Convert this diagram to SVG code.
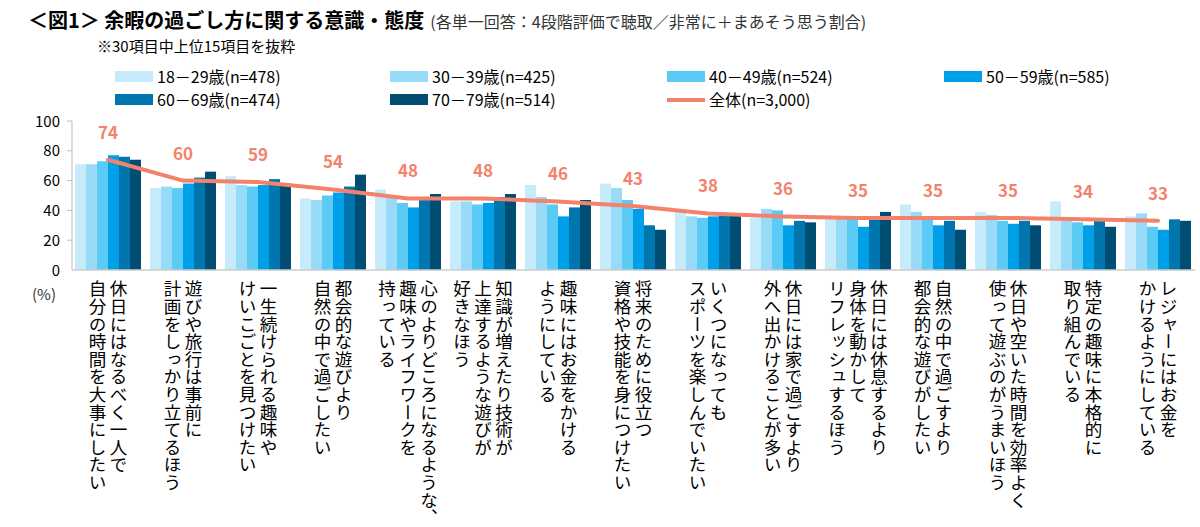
<svg xmlns="http://www.w3.org/2000/svg" width="1200" height="527" viewBox="0 0 1200 527">
<style>
text{font-family:"Noto Sans CJK JP","Liberation Sans",sans-serif;fill:#000}
.cat{font-size:17.6px;writing-mode:vertical-rl}
.ax{font-size:15px;fill:#333}
.lg{font-size:16px}
.val{font-size:17px;font-weight:bold;fill:#F4826B;text-anchor:middle}
.s0{fill:#C6EBFB}.s1{fill:#97DBF9}.s2{fill:#5BCBF5}.s3{fill:#00A0E9}.s4{fill:#0075AE}.s5{fill:#004E74}
</style>
<rect width="1200" height="527" fill="#fff"/>
<g id="title">
<text x="28" y="28" font-size="20" font-weight="bold">＜図1＞ 余暇の過ごし方に関する意識・態度<tspan font-size="16" font-weight="normal" fill="#333" dx="6">(各単一回答：4段階評価で聴取／非常に＋まあそう思う割合)</tspan></text>
<text x="97" y="52" font-size="15" fill="#333">※30項目中上位15項目を抜粋</text>
</g>
<g id="legend" class="lg">
<rect class="s0" x="115" y="71" width="38" height="11"/><text x="157" y="83">18－29歳(n=478)</text>
<rect class="s1" x="390" y="71" width="38" height="11"/><text x="432" y="83">30－39歳(n=425)</text>
<rect class="s2" x="667" y="71" width="38" height="11"/><text x="709" y="83">40－49歳(n=524)</text>
<rect class="s3" x="944" y="71" width="38" height="11"/><text x="986" y="83">50－59歳(n=585)</text>
<rect class="s4" x="115" y="94" width="38" height="11"/><text x="157" y="106">60－69歳(n=474)</text>
<rect class="s5" x="390" y="94" width="38" height="11"/><text x="432" y="106">70－79歳(n=514)</text>
<line x1="667" y1="100" x2="705" y2="100" stroke="#F4826B" stroke-width="4"/><text x="709" y="106">全体(n=3,000)</text>
</g>
<g id="axes">
<line x1="72" y1="121" x2="72" y2="270" stroke="#bbb"/>
<g stroke="#bbb"><line x1="67" y1="121" x2="72" y2="121"/><line x1="67" y1="150.8" x2="72" y2="150.8"/><line x1="67" y1="180.6" x2="72" y2="180.6"/><line x1="67" y1="210.4" x2="72" y2="210.4"/><line x1="67" y1="240.2" x2="72" y2="240.2"/></g>
<g class="ax" text-anchor="end"><text x="60" y="127">100</text><text x="60" y="156">80</text><text x="60" y="186">60</text><text x="60" y="216">40</text><text x="60" y="246">20</text><text x="60" y="276">0</text></g>
<text class="ax" x="32" y="300">(%)</text>
</g>
<g id="bars" transform="translate(0,270) scale(1,-1.49)">
<g class="s0"><rect x="75" width="11" height="71"/><rect x="150" width="11" height="55"/><rect x="225" width="11" height="63"/><rect x="300" width="11" height="48"/><rect x="375" width="11" height="54"/><rect x="450" width="11" height="46"/><rect x="525" width="11" height="57"/><rect x="600" width="11" height="58"/><rect x="675" width="11" height="41"/><rect x="750" width="11" height="35"/><rect x="825" width="11" height="35"/><rect x="900" width="11" height="44"/><rect x="975" width="11" height="39"/><rect x="1050" width="11" height="46"/><rect x="1125" width="11" height="36"/></g>
<g class="s1"><rect x="86" width="11" height="71"/><rect x="161" width="11" height="56"/><rect x="236" width="11" height="57"/><rect x="311" width="11" height="47"/><rect x="386" width="11" height="50"/><rect x="461" width="11" height="46"/><rect x="536" width="11" height="49"/><rect x="611" width="11" height="55"/><rect x="686" width="11" height="36"/><rect x="761" width="11" height="41"/><rect x="836" width="11" height="35"/><rect x="911" width="11" height="39"/><rect x="986" width="11" height="37"/><rect x="1061" width="11" height="33"/><rect x="1136" width="11" height="38"/></g>
<g class="s2"><rect x="97" width="11" height="73"/><rect x="172" width="11" height="55"/><rect x="247" width="11" height="56"/><rect x="322" width="11" height="50"/><rect x="397" width="11" height="45"/><rect x="472" width="11" height="44"/><rect x="547" width="11" height="44"/><rect x="622" width="11" height="47"/><rect x="697" width="11" height="35"/><rect x="772" width="11" height="40"/><rect x="847" width="11" height="35"/><rect x="922" width="11" height="34"/><rect x="997" width="11" height="33"/><rect x="1072" width="11" height="32"/><rect x="1147" width="11" height="29"/></g>
<g class="s3"><rect x="108" width="11" height="77"/><rect x="183" width="11" height="58"/><rect x="258" width="11" height="57"/><rect x="333" width="11" height="52"/><rect x="408" width="11" height="42"/><rect x="483" width="11" height="45"/><rect x="558" width="11" height="36"/><rect x="633" width="11" height="41"/><rect x="708" width="11" height="36"/><rect x="783" width="11" height="30"/><rect x="858" width="11" height="29"/><rect x="933" width="11" height="30"/><rect x="1008" width="11" height="31"/><rect x="1083" width="11" height="30"/><rect x="1158" width="11" height="27"/></g>
<g class="s4"><rect x="119" width="11" height="76"/><rect x="194" width="11" height="62"/><rect x="269" width="11" height="61"/><rect x="344" width="11" height="56"/><rect x="419" width="11" height="47"/><rect x="494" width="11" height="49"/><rect x="569" width="11" height="42"/><rect x="644" width="11" height="30"/><rect x="719" width="11" height="38"/><rect x="794" width="11" height="33"/><rect x="869" width="11" height="35"/><rect x="944" width="11" height="33"/><rect x="1019" width="11" height="33"/><rect x="1094" width="11" height="33"/><rect x="1169" width="11" height="34"/></g>
<g class="s5"><rect x="130" width="11" height="74"/><rect x="205" width="11" height="66"/><rect x="280" width="11" height="58"/><rect x="355" width="11" height="64"/><rect x="430" width="11" height="51"/><rect x="505" width="11" height="51"/><rect x="580" width="11" height="47"/><rect x="655" width="11" height="27"/><rect x="730" width="11" height="38"/><rect x="805" width="11" height="32"/><rect x="880" width="11" height="39"/><rect x="955" width="11" height="27"/><rect x="1030" width="11" height="30"/><rect x="1105" width="11" height="29"/><rect x="1180" width="11" height="33"/></g>
</g>
<line x1="72" y1="270" x2="1195" y2="270" stroke="#ccc" stroke-width="1.5"/>
<g id="connectors">
<polyline points="108,159.7 183,180.6 258,182.1 333,189.5 408,198.5 483,198.5 558,201.5 633,205.9 708,213.4 783,216.4 858,217.9 933,217.9 1008,217.9 1083,219.3 1158,220.8" fill="none" stroke="#F4826B" stroke-width="4" stroke-linejoin="round" stroke-linecap="round"/>
</g>
<g id="values">
<text class="val" x="108" y="139">74</text><text class="val" x="183" y="160">60</text><text class="val" x="258" y="161">59</text><text class="val" x="333" y="168">54</text><text class="val" x="408" y="177">48</text><text class="val" x="483" y="177">48</text><text class="val" x="558" y="180">46</text><text class="val" x="633" y="185">43</text><text class="val" x="708" y="192">38</text><text class="val" x="783" y="195">36</text><text class="val" x="858" y="197">35</text><text class="val" x="933" y="197">35</text><text class="val" x="1008" y="197">35</text><text class="val" x="1083" y="198">34</text><text class="val" x="1158" y="200">33</text>
</g>
<g id="categories">
<g id="c1"><text class="cat" x="118.5" y="280">休日にはなるべく一人で</text><text class="cat" x="97.5" y="280">自分の時間を大事にしたい</text></g>
<g id="c2"><text class="cat" x="193.5" y="280">遊びや旅行は事前に</text><text class="cat" x="172.5" y="280">計画をしっかり立てるほう</text></g>
<g id="c3"><text class="cat" x="268.5" y="280">一生続けられる趣味や</text><text class="cat" x="247.5" y="280">けいこごとを見つけたい</text></g>
<g id="c4"><text class="cat" x="343.5" y="280">都会的な遊びより</text><text class="cat" x="322.5" y="280">自然の中で過ごしたい</text></g>
<g id="c5"><text class="cat" x="429" y="280">心のよりどころになるような、</text><text class="cat" x="408" y="280">趣味やライフワークを</text><text class="cat" x="387" y="280">持っている</text></g>
<g id="c6"><text class="cat" x="504" y="280">知識が増えたり技術が</text><text class="cat" x="483" y="280">上達するような遊びが</text><text class="cat" x="462" y="280">好きなほう</text></g>
<g id="c7"><text class="cat" x="568.5" y="280">趣味にはお金をかける</text><text class="cat" x="547.5" y="280">ようにしている</text></g>
<g id="c8"><text class="cat" x="643.5" y="280">将来のために役立つ</text><text class="cat" x="622.5" y="280">資格や技能を身につけたい</text></g>
<g id="c9"><text class="cat" x="718.5" y="280">いくつになっても</text><text class="cat" x="697.5" y="280">スポーツを楽しんでいたい</text></g>
<g id="c10"><text class="cat" x="793.5" y="280">休日には家で過ごすより</text><text class="cat" x="772.5" y="280">外へ出かけることが多い</text></g>
<g id="c11"><text class="cat" x="879" y="280">休日には休息するより</text><text class="cat" x="858" y="280">身体を動かして</text><text class="cat" x="837" y="280">リフレッシュするほう</text></g>
<g id="c12"><text class="cat" x="943.5" y="280">自然の中で過ごすより</text><text class="cat" x="922.5" y="280">都会的な遊びがしたい</text></g>
<g id="c13"><text class="cat" x="1018.5" y="280">休日や空いた時間を効率よく</text><text class="cat" x="997.5" y="280">使って遊ぶのがうまいほう</text></g>
<g id="c14"><text class="cat" x="1093.5" y="280">特定の趣味に本格的に</text><text class="cat" x="1072.5" y="280">取り組んでいる</text></g>
<g id="c15"><text class="cat" x="1168.5" y="280">レジャーにはお金を</text><text class="cat" x="1147.5" y="280">かけるようにしている</text></g>
</g>
</svg>
